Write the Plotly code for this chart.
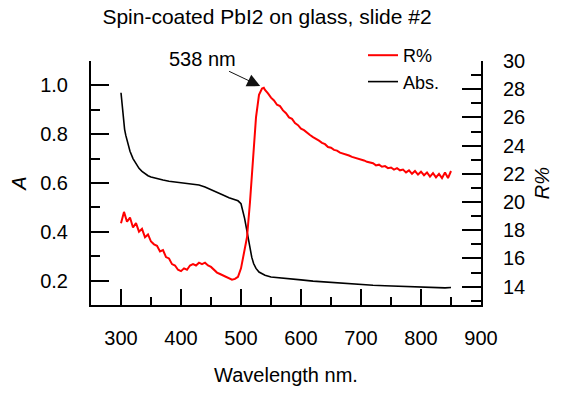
import plotly.graph_objects as go

# Absorbance (left axis)
abs_wl = [300, 302, 304, 306, 308, 310, 315, 320, 325, 330, 335, 340, 345, 350, 360, 370, 380, 390,
          400, 410, 420, 430, 440, 450, 460, 470, 480, 490, 495, 500, 503, 506, 509, 512, 515, 518,
          521, 525, 530, 540, 550, 560, 580, 600, 620, 640, 660, 680, 700, 720, 740, 760, 780, 800,
          820, 840, 850]
abs_val = [0.97, 0.91, 0.86, 0.82, 0.795, 0.775, 0.73, 0.70, 0.68, 0.66, 0.648, 0.638, 0.63, 0.625,
           0.617, 0.612, 0.607, 0.604, 0.602, 0.60, 0.598, 0.592, 0.584, 0.574, 0.563, 0.551, 0.54,
           0.532, 0.527, 0.515, 0.49, 0.455, 0.415, 0.37, 0.33, 0.295, 0.27, 0.25, 0.235, 0.222,
           0.215, 0.212, 0.207, 0.203, 0.198, 0.194, 0.19, 0.187, 0.184, 0.181, 0.179, 0.177, 0.175,
           0.173, 0.171, 0.170, 0.172]

# Reflectance R% (right axis)
r_wl = [300, 305, 310, 315, 320, 325, 330, 335, 340, 345, 350, 355, 360, 365, 370, 375, 380, 385,
        390, 395, 400, 405, 410, 415, 420, 425, 430, 435, 440, 445, 450, 455, 460, 465, 470, 475,
        480, 485, 490, 495, 500, 505, 510, 515, 520, 525, 530, 535, 538, 540, 545, 550, 555, 560,
        565, 570, 575, 580, 585, 590, 595, 600, 605, 610, 615, 620, 625, 630, 635, 640, 645, 650,
        655, 660, 665, 670, 675, 680, 685, 690, 695, 700, 705, 710, 715, 720, 725, 730, 735, 740,
        745, 750, 755, 760, 765, 770, 775, 780, 785, 790, 795, 800, 805, 810, 815, 820, 825, 830,
        835, 840, 845, 850]
r_val = [18.5, 19.3, 18.6, 18.9, 18.2, 18.5, 17.9, 18.1, 17.5, 17.7, 17.2, 17.0, 16.9, 16.5, 16.6,
         16.1, 16.0, 15.6, 15.5, 15.2, 15.1, 15.3, 15.2, 15.5, 15.6, 15.5, 15.7, 15.6, 15.7, 15.5,
         15.4, 15.2, 15.0, 14.9, 14.8, 14.7, 14.6, 14.5, 14.55, 14.7, 15.3, 16.3, 17.5, 20.0, 23.2,
         26.0, 27.6, 28.05, 28.1, 27.95, 27.7, 27.4, 27.2, 26.9, 26.8, 26.5, 26.3, 26.0, 25.9, 25.6,
         25.45, 25.2, 25.1, 24.9, 24.75, 24.6, 24.5, 24.35, 24.2, 24.1, 23.9, 23.85, 23.7, 23.65,
         23.5, 23.45, 23.4, 23.3, 23.2, 23.15, 23.05, 23.0, 22.95, 22.85, 22.8, 22.75, 22.6, 22.65,
         22.5, 22.55, 22.4, 22.45, 22.3, 22.4, 22.25, 22.3, 22.1, 22.25, 22.0, 22.2, 21.95, 22.15,
         21.9, 22.1, 21.8, 22.05, 21.75, 22.0, 21.7, 22.1, 21.7, 22.2]

peak_wl = 538
peak_r = 28.1
title_text = "Spin-coated PbI2 on glass, slide #2"

FONT = "Liberation Sans, Arial, sans-serif"

fig = go.Figure()
fig.add_trace(go.Scatter(x=abs_wl, y=abs_val, mode="lines", name="Abs.",
                         line=dict(color="black", width=1.6), yaxis="y"))
fig.add_trace(go.Scatter(x=r_wl, y=r_val, mode="lines", name="R%",
                         line=dict(color="#ff0000", width=2), yaxis="y2"))

axis_common = dict(showline=True, linecolor="black", linewidth=2, ticks="inside",
                   tickwidth=2, tickcolor="black", showgrid=False, zeroline=False,
                   tickfont=dict(family=FONT, size=20, color="black"))

fig.update_layout(
    width=562, height=394,
    margin=dict(l=91, r=81, t=61, b=89),
    paper_bgcolor="white", plot_bgcolor="white",
    font=dict(family=FONT, size=20, color="black"),
    title=dict(text=title_text, x=267 / 562, xanchor="center", y=1 - 17 / 394,
               yanchor="middle", font=dict(family=FONT, size=21, color="black")),
    xaxis=dict(range=[250, 900], tick0=300, dtick=100, ticklen=16,
               ticklabelstandoff=14,
               minor=dict(ticks="inside", ticklen=8, tickwidth=2, tickcolor="black",
                          dtick=50, tick0=250, showgrid=False),
               title=dict(text="Wavelength nm.", standoff=20,
                          font=dict(family=FONT, size=20, color="black")),
               **axis_common),
    yaxis=dict(range=[0.1, 1.1], tick0=0.2, dtick=0.2, tickformat=".1f", ticklen=18,
               ticklabelstandoff=17,
               minor=dict(ticks="inside", ticklen=9, tickwidth=2, tickcolor="black",
                          dtick=0.1, tick0=0.1, showgrid=False),
               title=dict(text="<i>A</i>", standoff=8,
                          font=dict(family=FONT, size=20, color="black")),
               **axis_common),
    yaxis2=dict(range=[12.7, 30], tick0=14, dtick=2, ticklen=19, overlaying="y", side="right",
                ticklabelstandoff=16,
                minor=dict(ticks="inside", ticklen=10, tickwidth=2, tickcolor="black",
                           dtick=1, tick0=13, showgrid=False),
                title=dict(text="<i>R%</i>", standoff=11,
                           font=dict(family=FONT, size=20, color="black")),
                **axis_common),
    legend=dict(x=(363 - 91) / 390, xanchor="left", y=(305 - 37) / 244, yanchor="top",
                traceorder="reversed", bgcolor="rgba(0,0,0,0)", borderwidth=0,
                font=dict(family=FONT, size=18, color="black")),
    showlegend=True,
)

fig.add_annotation(x=peak_wl, y=peak_r, xref="x", yref="y2", text=f"{peak_wl} nm",
                   showarrow=True, arrowhead=2, arrowsize=2.6, arrowwidth=1,
                   arrowcolor="#111111", standoff=4, ax=-61, ay=-29,
                   font=dict(family=FONT, size=20, color="black"))

fig.write_html("out.html")
